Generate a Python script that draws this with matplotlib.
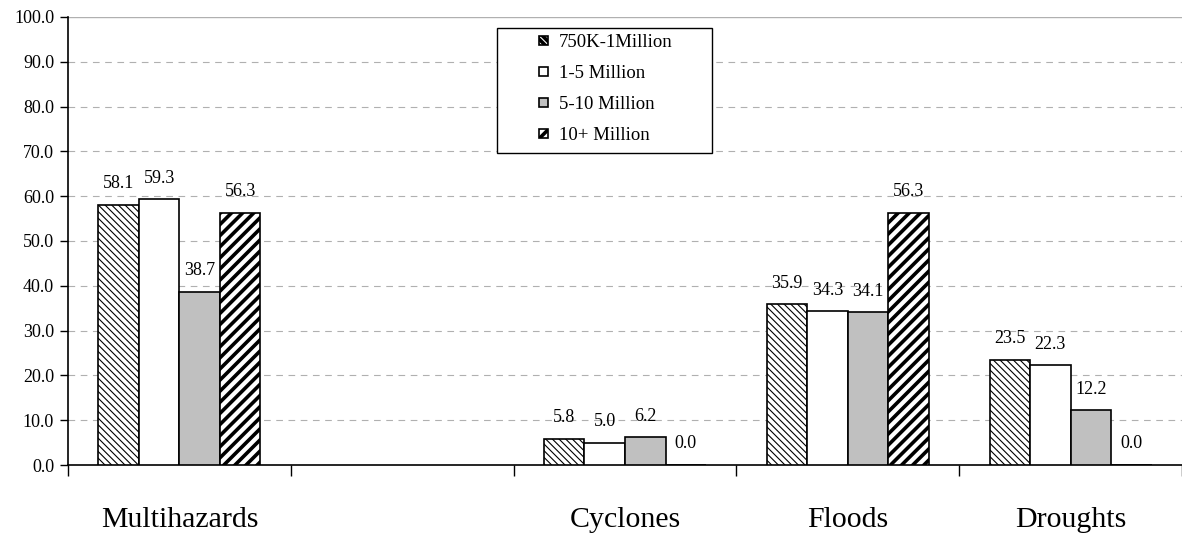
import matplotlib
matplotlib.use("Agg")
import matplotlib.pyplot as plt
from matplotlib.patches import Rectangle
import numpy as np

categories = ["Multihazards", "", "Cyclones", "Floods", "Droughts"]
series_names = ["750K-1Million", "1-5 Million", "5-10 Million", "10+ Million"]
s1 = [58.1, np.nan, 5.8, 35.9, 23.5]
s2 = [59.3, np.nan, 5.0, 34.3, 22.3]
s3 = [38.7, np.nan, 6.2, 34.1, 12.2]
s4 = [56.3, np.nan, 0.0, 56.3, 0.0]
series = [s1, s2, s3, s4]

plt.rcParams['font.family'] = ['Liberation Serif', 'DejaVu Serif']

W, H = 1182, 538
fig = plt.figure(figsize=(W/100, H/100), dpi=100)
ax = fig.add_axes([68/W, 1-465/H, 1-68/W, 448/H])

styles = [
    dict(facecolor='white', hatch='\\\\\\\\\\', hlw=0.8),
    dict(facecolor='white', hatch=None, hlw=1.0),
    dict(facecolor='#c0c0c0', hatch=None, hlw=1.0),
    dict(facecolor='white', hatch='///', hlw=2.6),
]

x = np.arange(len(categories))
w = 0.182
handles = []
for i, (vals, st) in enumerate(zip(series, styles)):
    plt.rcParams['hatch.linewidth'] = st['hlw']
    pos = x + (i - 1.5) * w
    bars = ax.bar(pos, vals, width=w, facecolor=st['facecolor'], edgecolor='black',
                  linewidth=1.2, hatch=st['hatch'], zorder=3, label=series_names[i])
    handles.append(bars)
    for p, v in zip(pos, vals):
        if np.isnan(v):
            continue
        ax.text(p, v + 2.8, f"{v:.1f}", ha='center', va='bottom', fontsize=13, zorder=4)

ax.set_xlim(-0.5, len(categories) - 0.5)
ax.set_ylim(0, 100)
ax.set_yticks(np.arange(0, 101, 10))
ax.set_yticklabels([f"{v:.1f}" for v in np.arange(0, 101, 10)], fontsize=13)
ax.tick_params(axis='y', direction='out', length=6, width=1, pad=4)

ax.set_xticks(x)
ax.set_xticklabels(categories, fontsize=21.5)
ax.tick_params(axis='x', which='major', length=0, pad=30)
ax.set_xticks(np.arange(-0.5, len(categories), 1.0), minor=True)
ax.tick_params(axis='x', which='minor', length=8, width=1, direction='out')

for yv in np.arange(10, 100, 10):
    ax.axhline(yv, color='#b0b0b0', linestyle=(0, (6, 5)), linewidth=0.8, zorder=1)
ax.axhline(100, color='#b0b0b0', linestyle='-', linewidth=1.0, zorder=1)

for sp in ['top', 'right']:
    ax.spines[sp].set_visible(False)
ax.spines['left'].set_linewidth(1.2)
ax.spines['bottom'].set_linewidth(1.2)

# legend box (Excel style) drawn as a frame with legend entries inside
box = Rectangle((497/W, 1-153/H), (712-497)/W, (153-28)/H, transform=fig.transFigure,
                facecolor='white', edgecolor='black', linewidth=1.0, zorder=5)
fig.add_artist(box)
leg = fig.legend(handles=handles, loc='upper left', bbox_to_anchor=(539/W, 1-34/H),
                 bbox_transform=fig.transFigure,
                 fontsize=13.5, frameon=False,
                 handlelength=0.5, handleheight=0.4, handletextpad=0.55,
                 labelspacing=0.75, borderpad=0, borderaxespad=0)
leg.set_zorder(6)

fig.savefig("out.png", dpi=100)
